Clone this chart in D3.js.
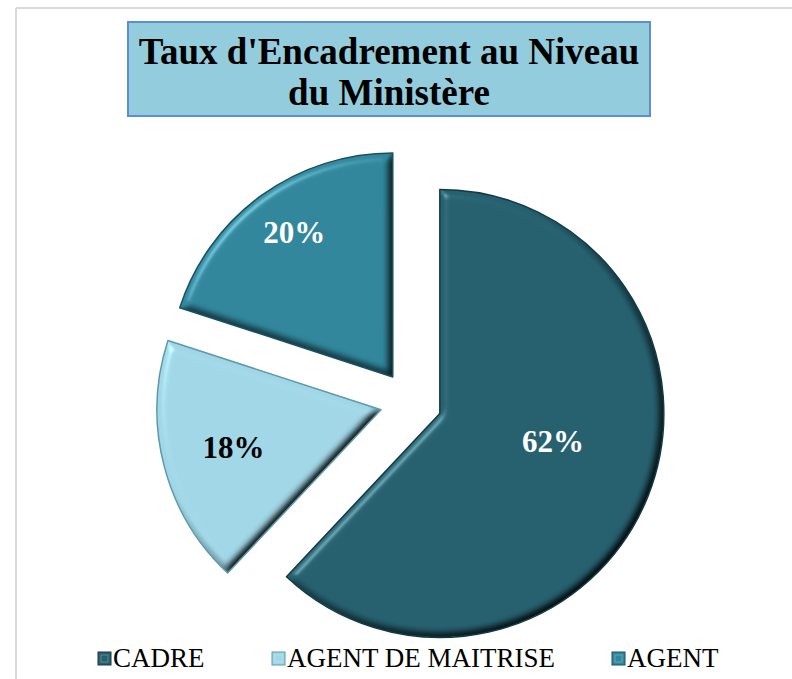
<!DOCTYPE html>
<html>
<head>
<meta charset="utf-8">
<script src="https://cdn.jsdelivr.net/npm/d3@7"></script>
<style>
  body { margin: 0; background: #fff; }
  svg { display: block; }
  text { font-family: "Liberation Serif", "Times New Roman", Times, serif; }
</style>
</head>
<body>
<div class="canvas"></div>
<script>
// data
const categories = ['CADRE', 'AGENT DE MAITRISE', 'AGENT'];
const values = [62, 18, 20];
const labels = ['62%', '18%', '20%'];
const titleLines = ["Taux d'Encadrement au Niveau", 'du Ministère'];

const colors = ['#26606f', '#a0d6e5', '#31869c'];
const strokes = ['#123a44', '#5c9aab', '#1a5060'];
const labelColors = ['#fff', '#000', '#fff'];
// label placement along the radius and angle nudge (Excel best fit)
const labelPos = [0.52, 0.68, 0.78];
const labelTurn = [-0.14, 0, 0.03];

const dim = {'width': 792, 'height': 679, 'radius': 224, 'explode': 31};
const cent = {'x': 411, 'y': 402};

const svg = d3.select('.canvas')
    .append('svg')
    .attr('width', dim.width)
    .attr('height', dim.height);

// bevel filter
const defs = svg.append('defs');
const f = defs.append('filter').attr('id', 'bevel')
    .attr('color-interpolation-filters', 'sRGB')
    .attr('x', '-10%').attr('y', '-10%').attr('width', '120%').attr('height', '120%');
f.append('feGaussianBlur').attr('in', 'SourceAlpha').attr('stdDeviation', 4).attr('result', 'blur');
f.append('feDiffuseLighting').attr('in', 'blur').attr('surfaceScale', 5)
    .attr('diffuseConstant', 1.31).attr('lighting-color', '#fff').attr('result', 'diff')
  .append('feDistantLight').attr('azimuth', 225).attr('elevation', 50);
f.append('feSpecularLighting').attr('in', 'blur').attr('surfaceScale', 5)
    .attr('specularConstant', 0.5).attr('specularExponent', 40)
    .attr('lighting-color', '#fff').attr('result', 'spec')
  .append('feDistantLight').attr('azimuth', 225).attr('elevation', 40);
f.append('feComposite').attr('in', 'SourceGraphic').attr('in2', 'diff')
    .attr('operator', 'arithmetic').attr('k1', 1).attr('k2', 0).attr('k3', 0).attr('k4', 0)
    .attr('result', 'shaded');
f.append('feComposite').attr('in', 'spec').attr('in2', 'SourceAlpha')
    .attr('operator', 'in').attr('result', 'specIn');
f.append('feComposite').attr('in', 'shaded').attr('in2', 'specIn')
    .attr('operator', 'arithmetic').attr('k1', 0).attr('k2', 1).attr('k3', 0.5).attr('k4', 0)
    .attr('result', 'lit');
f.append('feComposite').attr('in', 'lit').attr('in2', 'SourceAlpha').attr('operator', 'in');

// outer frame (only top and left visible)
svg.append('line').attr('x1', 16).attr('y1', 8).attr('x2', dim.width).attr('y2', 8)
    .attr('stroke', '#d9d9d9').attr('stroke-width', 2);
svg.append('line').attr('x1', 16).attr('y1', 8).attr('x2', 16).attr('y2', dim.height)
    .attr('stroke', '#d9d9d9').attr('stroke-width', 2);

// title box
svg.append('rect')
    .attr('x', 128).attr('y', 22).attr('width', 522).attr('height', 94)
    .attr('fill', '#93cddd').attr('stroke', '#5b8fd0').attr('stroke-width', 2);
svg.append('text')
    .attr('x', 389).attr('text-anchor', 'middle')
    .attr('font-weight', 'bold').attr('font-size', 37)
    .selectAll('tspan').data(titleLines).enter().append('tspan')
    .attr('x', 389).attr('y', (d, i) => 64 + i * 41)
    .text(d => d);

const data = categories.map((c, i) => ({name: c, value: values[i], label: labels[i], i: i}));

const pie = d3.pie().sort(null).value(d => d.value);
const arcPath = d3.arc().outerRadius(dim.radius).innerRadius(0);

const graph = svg.append('g').attr('transform', `translate(${cent.x},${cent.y})`);

const slices = graph.selectAll('g.slice').data(pie(data)).enter().append('g')
    .attr('class', 'slice')
    .attr('transform', d => {
        const mid = (d.startAngle + d.endAngle) / 2;
        return `translate(${Math.sin(mid) * dim.explode},${-Math.cos(mid) * dim.explode})`;
    });

slices.append('path')
    .attr('d', arcPath)
    .attr('fill', d => colors[d.data.i])
    .attr('filter', 'url(#bevel)');
slices.append('path')
    .attr('d', arcPath)
    .attr('fill', 'none')
    .attr('stroke', d => strokes[d.data.i])
    .attr('stroke-width', 1.5)
    .attr('stroke-linejoin', 'round');

const labelAngle = d => (d.startAngle + d.endAngle) / 2 + labelTurn[d.data.i];
slices.append('text')
    .attr('x', d => Math.sin(labelAngle(d)) * dim.radius * labelPos[d.data.i])
    .attr('y', d => -Math.cos(labelAngle(d)) * dim.radius * labelPos[d.data.i])
    .attr('dy', '0.35em')
    .attr('text-anchor', 'middle')
    .attr('font-weight', 'bold').attr('font-size', 31)
    .attr('fill', d => labelColors[d.data.i])
    .text(d => d.data.label);

// legend
const legendX = [98, 272, 612];
const legend = svg.append('g').attr('transform', 'translate(0,652)');
const items = legend.selectAll('g').data(data).enter().append('g')
    .attr('transform', (d, i) => `translate(${legendX[i]},0)`);
items.append('rect')
    .attr('width', 13).attr('height', 13)
    .attr('fill', d => colors[d.i])
    .attr('stroke', d => strokes[d.i]).attr('stroke-width', 1);
items.append('rect')
    .attr('x', 3).attr('y', 3).attr('width', 7).attr('height', 7)
    .attr('fill', 'none').attr('stroke', '#fff').attr('stroke-opacity', 0.25);
items.append('text')
    .attr('x', 15).attr('y', 15)
    .attr('font-size', 27)
    .text(d => d.name);
</script>
</body>
</html>
